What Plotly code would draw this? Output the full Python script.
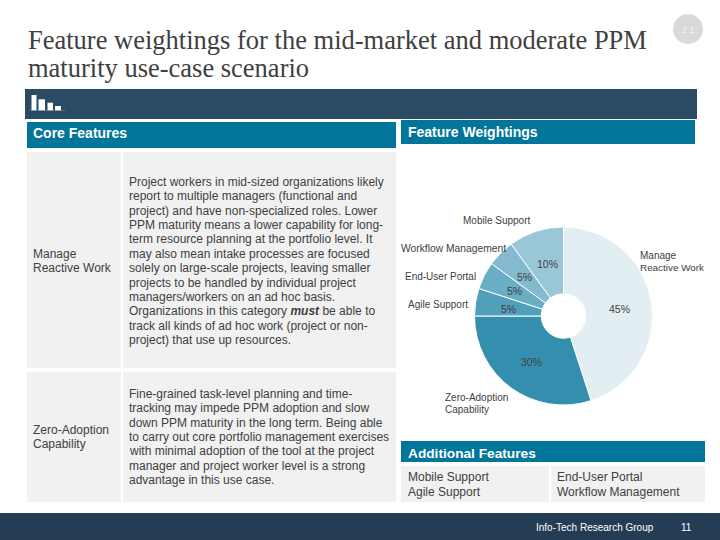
import plotly.graph_objects as go

W, H = 720, 540
SANS = "Liberation Sans"
SERIF = "Liberation Serif"

# ---- data ----
pie_labels = ["Manage Reactive Work", "Zero-Adoption Capability", "Agile Support",
              "End-User Portal", "Workflow Management", "Mobile Support"]
pie_values = [45, 30, 5, 5, 5, 10]
pie_colors = ["#E3EEF3", "#348FAF", "#519FBB", "#6AAEC6", "#83BAD0", "#9AC7D8"]

title_lines = ["Feature weightings for the mid-market and moderate PPM",
               "maturity use-case scenario"]
body_one = ["Project workers in mid-sized organizations likely",
            "report to multiple managers (functional and",
            "project) and have non-specialized roles. Lower",
            "PPM maturity means a lower capability for long-",
            "term resource planning at the portfolio level. It",
            "may also mean intake processes are focused",
            "solely on large-scale projects, leaving smaller",
            "projects to be handled by individual project",
            "managers/workers on an ad hoc basis.",
            "Organizations in this category <b><i>must</i></b> be able to",
            "track all kinds of ad hoc work (project or non-",
            "project) that use up resources."]
body_two = ["Fine-grained task-level planning and time-",
            "tracking may impede PPM adoption and slow",
            "down PPM maturity in the long term. Being able",
            "to carry out core portfolio management exercises",
            "with minimal adoption of the tool at the project",
            "manager and project worker level is a strong",
            "advantage in this use case."]
additional_left = ["Mobile Support", "Agile Support"]
additional_right = ["End-User Portal", "Workflow Management"]

# ---- helpers ----
shapes, notes = [], []

def rect(x0, y0, x1, y1, color):
    shapes.append(dict(type="rect", xref="paper", yref="paper", x0=x0 / W, x1=x1 / W,
                       y0=1 - y0 / H, y1=1 - y1 / H, fillcolor=color, line_width=0, layer="below"))

def text(x, y, s, size=12, color="#404040", family=SANS, anchor="left"):
    notes.append(dict(xref="paper", yref="paper", x=x / W, y=1 - y / H, text=s, showarrow=False,
                      xanchor=anchor, yanchor="middle", align=anchor,
                      font=dict(size=size, color=color, family=family),
                      borderpad=0, borderwidth=0))

NAVY, TEAL, CELL = "#2B4A63", "#01759A", "#F1F1F1"

# ---- panels ----
rect(25, 89, 697, 119, NAVY)
rect(27, 122, 396, 148, TEAL)
rect(401, 120, 695, 144, TEAL)
rect(27, 152, 121, 368, CELL)
rect(123, 152, 396, 368, CELL)
rect(27, 372, 121, 502, CELL)
rect(123, 372, 396, 502, CELL)
rect(401, 441, 705, 462, TEAL)
rect(401, 466, 549, 502, CELL)
rect(551, 466, 705, 502, CELL)
rect(0, 513, 720, 540, "#253D54")

# logo bars
for x0, x1, y0 in [(31.5, 36.5, 95), (38.5, 45, 99.3), (47.5, 53, 102.7), (55, 61, 106)]:
    rect(x0, y0, x1, 110.5, "#FFFFFF")
rect(30, 110.5, 65, 111, "#7F93A3")

# section badge
shapes.append(dict(type="circle", xref="paper", yref="paper", x0=673 / W, x1=703 / W,
                   y0=1 - 14 / H, y1=1 - 44 / H, fillcolor="#D9D9D9", line_width=0, layer="below"))
text(688, 30, "2.1", size=9, color="#F4F4F4", anchor="center")

# ---- text ----
for i, s in enumerate(title_lines):
    text(27.5, 40.5 + i * 27, s, size=26.5, color="#404040", family=SERIF)

text(33, 133, "<b>Core Features</b>", size=14, color="#FFFFFF")
text(408, 132, "<b>Feature Weightings</b>", size=14, color="#FFFFFF")
text(408, 453, "<b>Additional Features</b>", size=13.7, color="#FFFFFF")

text(33, 254, "Manage", size=12)
text(33, 268, "Reactive Work", size=12)
text(33, 430, "Zero-Adoption", size=12)
text(33, 444, "Capability", size=12)

for i, s in enumerate(body_one):
    text(129, 182 + i * 14.36, s, size=12)
for i, s in enumerate(body_two):
    text(129, 394 + i * 14.33, s, size=12)

for i, s in enumerate(additional_left):
    text(408, 477 + i * 15, s, size=12)
for i, s in enumerate(additional_right):
    text(557, 477 + i * 15, s, size=12)

text(536, 527.5, "Info-Tech Research Group", size=10, color="#FFFFFF")
text(681, 527.5, "11", size=10, color="#FFFFFF")

# pie labels
text(463, 221, pie_labels[5], size=10)
text(401, 248, pie_labels[4], size=10.3)
text(405, 276, pie_labels[3], size=10)
text(408, 304, pie_labels[2], size=10)
text(640, 255, "Manage", size=10)
text(640, 267, "Reactive Work", size=9.9)
text(445, 397, "Zero-Adoption", size=10)
text(445, 409, "Capability", size=10)

# percentage labels
pct_xy = [(619.5, 309), (531, 362), (508.5, 309), (514, 291), (524.5, 277), (547, 263.5)]
for v, (x, y) in zip(pie_values, pct_xy):
    text(x, y, f"{v}%", size=10.5, anchor="center")

# ---- pie ----
cx, cy, r = 563.5, 316, 89
pie = go.Pie(labels=pie_labels, values=pie_values, sort=False, direction="clockwise", rotation=0,
             hole=0.25, textinfo="none", hoverinfo="label+percent", showlegend=False,
             marker=dict(colors=pie_colors, line=dict(color="#FFFFFF", width=1)),
             domain=dict(x=[(cx - r) / W, (cx + r) / W], y=[1 - (cy + r) / H, 1 - (cy - r) / H]))

fig = go.Figure(pie)
fig.update_layout(width=W, height=H, autosize=False, margin=dict(l=0, r=0, t=0, b=0),
                  paper_bgcolor="#FFFFFF", plot_bgcolor="#FFFFFF",
                  shapes=shapes, annotations=notes, showlegend=False)
fig.write_html("out.html", config=dict(displayModeBar=False),
               post_script="document.body.style.margin='0';document.documentElement.style.overflow='hidden';")
